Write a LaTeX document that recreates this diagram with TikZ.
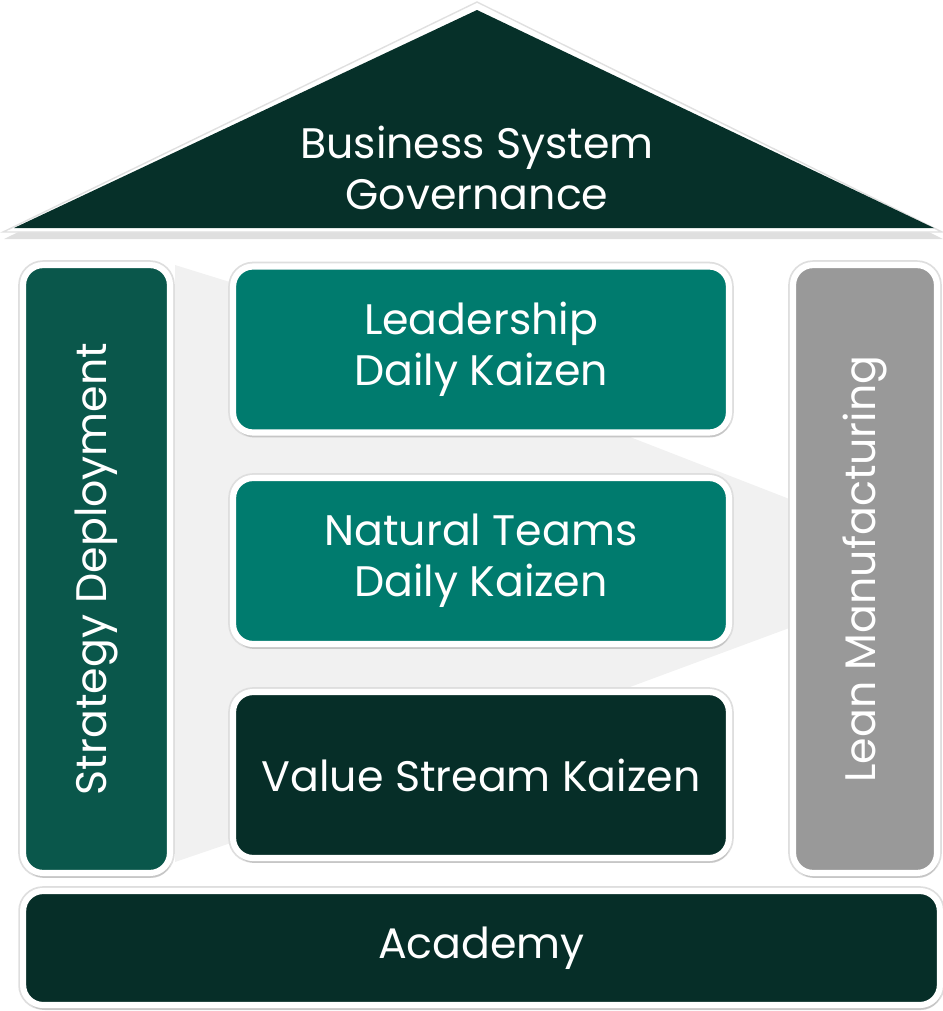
\documentclass[tikz,border=0pt]{standalone}
\usepackage{fontspec}
\setmainfont{Poppins}
\usepackage{tikz}
\usepackage{xcolor}
\usetikzlibrary{shadows}
\definecolor{cRoof}{RGB}{6,48,41}
\definecolor{cTeal}{RGB}{0,123,110}
\definecolor{cPillar}{RGB}{10,87,75}
\definecolor{cDark}{RGB}{6,46,40}
\definecolor{cGray}{RGB}{153,153,153}
\definecolor{cBack}{RGB}{241,241,241}
\tikzset{
	block/.style={rectangle, rounded corners=0.4cm, draw=white, line width=3.5pt, text=white, align=center,
		font=\fontsize{24.3}{28.8}\selectfont,
		preaction={draw=black!13, line width=5.5pt},
		drop shadow={opacity=0.25, shadow xshift=0.03cm, shadow yshift=-0.1cm}},
	kaizen/.style={block, minimum width=9.92cm, minimum height=3.32cm},
	pillar/.style={block, minimum height=12.16cm},
	vlabel/.style={rotate=90, text=white, font=\fontsize{24.3}{28.8}\selectfont},
}
\begin{document}
\begin{tikzpicture}[x=0.02cm, y=-0.02cm]
	\useasboundingbox (0,0) rectangle (943,1011);
	% back panel
	\fill[cBack] (175,265) -- (630,406) -- (630,437) -- (792,500) -- (792,627)
		-- (630,687) -- (630,707) -- (175,862) -- cycle;
	% roof
	\filldraw[white, draw=black!12, line width=0.8pt,
		drop shadow={opacity=0.25, shadow xshift=0.02cm, shadow yshift=-0.14cm}]
		(477,2) -- (3,232) -- (942,232) -- cycle;
	\fill[cRoof] (477,10) -- (14,228) -- (934,228) -- cycle;
	\node[text=white, align=center, font=\fontsize{24.3}{28.8}\selectfont] (gov) at (477,168) {Business System\\Governance};
	% pillars
	\node[pillar, fill=cPillar, minimum width=2.94cm] (strat) at (96.5,569) {};
	\node[vlabel] (stratlbl) at (strat.center) {Strategy Deployment};
	\node[pillar, fill=cGray, minimum width=2.88cm] (lean) at (865,569) {};
	\node[vlabel] (leanlbl) at (lean.center) {Lean Manufacturing};
	% kaizen blocks
	\node[kaizen, fill=cTeal] (lead) at (481,349.5) {Leadership\\Daily Kaizen};
	\node[kaizen, fill=cTeal] (teams) at (481,561) {Natural Teams\\Daily Kaizen};
	\node[kaizen, fill=cDark] (vsk) at (481,775) {Value Stream Kaizen};
	% base
	\node[block, fill=cDark, minimum width=18.34cm, minimum height=2.28cm] (acad) at (481.5,948) {Academy};
\end{tikzpicture}
\end{document}
